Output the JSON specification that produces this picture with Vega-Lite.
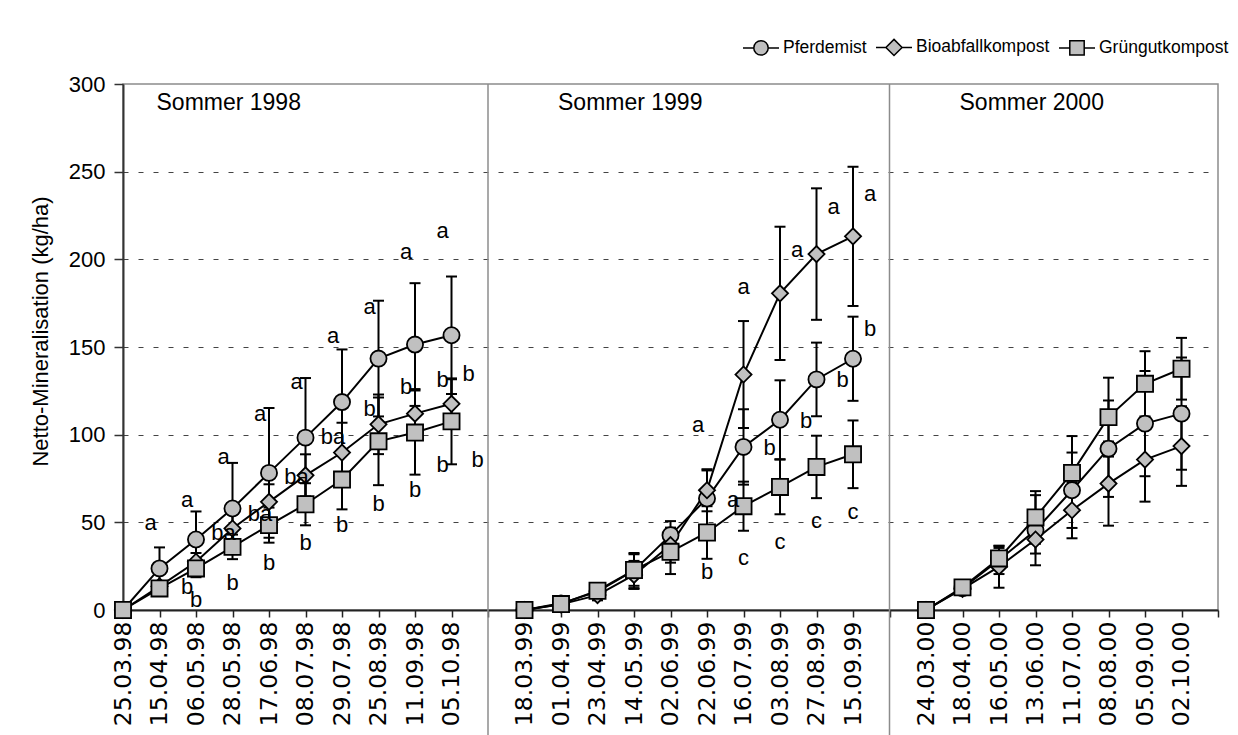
{
  "$schema": "https://vega.github.io/schema/vega-lite/v6.json",
  "width": 1095,
  "height": 526,
  "autosize": {"type": "none"},
  "padding": {"left": 123, "top": 84, "right": 20, "bottom": 125},
  "background": "white",
  "config": {
    "font": "Liberation Sans",
    "view": {"stroke": "#8c8c8c", "strokeWidth": 1.5}
  },
  "resolve": {"scale": {"shape": "independent"}, "legend": {"shape": "independent"}},
  "datasets": {
    "obs": [
      {"date": "25.03.98", "summer": "1998", "series": "Pferdemist", "value": 0, "err": 0},
      {"date": "15.04.98", "summer": "1998", "series": "Pferdemist", "value": 23.7, "err": 12},
      {"date": "06.05.98", "summer": "1998", "series": "Pferdemist", "value": 40.2, "err": 16},
      {"date": "28.05.98", "summer": "1998", "series": "Pferdemist", "value": 57.9, "err": 26},
      {"date": "17.06.98", "summer": "1998", "series": "Pferdemist", "value": 78.2, "err": 37},
      {"date": "08.07.98", "summer": "1998", "series": "Pferdemist", "value": 98.3, "err": 34},
      {"date": "29.07.98", "summer": "1998", "series": "Pferdemist", "value": 118.6, "err": 30},
      {"date": "25.08.98", "summer": "1998", "series": "Pferdemist", "value": 143.4, "err": 33},
      {"date": "11.09.98", "summer": "1998", "series": "Pferdemist", "value": 151.4, "err": 35},
      {"date": "05.10.98", "summer": "1998", "series": "Pferdemist", "value": 156.7, "err": 33.5},
      {"date": "18.03.99", "summer": "1999", "series": "Pferdemist", "value": 0, "err": 0},
      {"date": "01.04.99", "summer": "1999", "series": "Pferdemist", "value": 3.8, "err": 2},
      {"date": "23.04.99", "summer": "1999", "series": "Pferdemist", "value": 10.5, "err": 3},
      {"date": "14.05.99", "summer": "1999", "series": "Pferdemist", "value": 22.5, "err": 10},
      {"date": "02.06.99", "summer": "1999", "series": "Pferdemist", "value": 42.7, "err": 8},
      {"date": "22.06.99", "summer": "1999", "series": "Pferdemist", "value": 63.6, "err": 16},
      {"date": "16.07.99", "summer": "1999", "series": "Pferdemist", "value": 93, "err": 21.5},
      {"date": "03.08.99", "summer": "1999", "series": "Pferdemist", "value": 108.5, "err": 22.5},
      {"date": "27.08.99", "summer": "1999", "series": "Pferdemist", "value": 131.5, "err": 21},
      {"date": "15.09.99", "summer": "1999", "series": "Pferdemist", "value": 143.3, "err": 24},
      {"date": "24.03.00", "summer": "2000", "series": "Pferdemist", "value": 0, "err": 0},
      {"date": "18.04.00", "summer": "2000", "series": "Pferdemist", "value": 12.5, "err": 2},
      {"date": "16.05.00", "summer": "2000", "series": "Pferdemist", "value": 28.5, "err": 8},
      {"date": "13.06.00", "summer": "2000", "series": "Pferdemist", "value": 45.5, "err": 20},
      {"date": "11.07.00", "summer": "2000", "series": "Pferdemist", "value": 68.3, "err": 21.5},
      {"date": "08.08.00", "summer": "2000", "series": "Pferdemist", "value": 92, "err": 27.5},
      {"date": "05.09.00", "summer": "2000", "series": "Pferdemist", "value": 106.3, "err": 30},
      {"date": "02.10.00", "summer": "2000", "series": "Pferdemist", "value": 112, "err": 32},
      {"date": "25.03.98", "summer": "1998", "series": "Bioabfallkompost", "value": 0, "err": 0},
      {"date": "15.04.98", "summer": "1998", "series": "Bioabfallkompost", "value": 13.5, "err": 3},
      {"date": "06.05.98", "summer": "1998", "series": "Bioabfallkompost", "value": 27.5, "err": 5},
      {"date": "28.05.98", "summer": "1998", "series": "Bioabfallkompost", "value": 46.5, "err": 8},
      {"date": "17.06.98", "summer": "1998", "series": "Bioabfallkompost", "value": 61.7, "err": 10},
      {"date": "08.07.98", "summer": "1998", "series": "Bioabfallkompost", "value": 76.8, "err": 12},
      {"date": "29.07.98", "summer": "1998", "series": "Bioabfallkompost", "value": 89.8, "err": 17},
      {"date": "25.08.98", "summer": "1998", "series": "Bioabfallkompost", "value": 105.9, "err": 17},
      {"date": "11.09.98", "summer": "1998", "series": "Bioabfallkompost", "value": 112, "err": 14},
      {"date": "05.10.98", "summer": "1998", "series": "Bioabfallkompost", "value": 117.6, "err": 14},
      {"date": "18.03.99", "summer": "1999", "series": "Bioabfallkompost", "value": 0, "err": 0},
      {"date": "01.04.99", "summer": "1999", "series": "Bioabfallkompost", "value": 3.2, "err": 2},
      {"date": "23.04.99", "summer": "1999", "series": "Bioabfallkompost", "value": 8.5, "err": 3},
      {"date": "14.05.99", "summer": "1999", "series": "Bioabfallkompost", "value": 20, "err": 8},
      {"date": "02.06.99", "summer": "1999", "series": "Bioabfallkompost", "value": 37, "err": 10},
      {"date": "22.06.99", "summer": "1999", "series": "Bioabfallkompost", "value": 68.3, "err": 12},
      {"date": "16.07.99", "summer": "1999", "series": "Bioabfallkompost", "value": 134.3, "err": 30.5},
      {"date": "03.08.99", "summer": "1999", "series": "Bioabfallkompost", "value": 180.6, "err": 38},
      {"date": "27.08.99", "summer": "1999", "series": "Bioabfallkompost", "value": 203, "err": 37.5},
      {"date": "15.09.99", "summer": "1999", "series": "Bioabfallkompost", "value": 213.1, "err": 39.7},
      {"date": "24.03.00", "summer": "2000", "series": "Bioabfallkompost", "value": 0, "err": 0},
      {"date": "18.04.00", "summer": "2000", "series": "Bioabfallkompost", "value": 12, "err": 2},
      {"date": "16.05.00", "summer": "2000", "series": "Bioabfallkompost", "value": 24.7, "err": 12},
      {"date": "13.06.00", "summer": "2000", "series": "Bioabfallkompost", "value": 40.2, "err": 8},
      {"date": "11.07.00", "summer": "2000", "series": "Bioabfallkompost", "value": 56.9, "err": 16},
      {"date": "08.08.00", "summer": "2000", "series": "Bioabfallkompost", "value": 72.1, "err": 24},
      {"date": "05.09.00", "summer": "2000", "series": "Bioabfallkompost", "value": 85.8, "err": 24},
      {"date": "02.10.00", "summer": "2000", "series": "Bioabfallkompost", "value": 93.5, "err": 22.7},
      {"date": "25.03.98", "summer": "1998", "series": "Grüngutkompost", "value": 0, "err": 0},
      {"date": "15.04.98", "summer": "1998", "series": "Grüngutkompost", "value": 12.3, "err": 2},
      {"date": "06.05.98", "summer": "1998", "series": "Grüngutkompost", "value": 23.7, "err": 5},
      {"date": "28.05.98", "summer": "1998", "series": "Grüngutkompost", "value": 36, "err": 7},
      {"date": "17.06.98", "summer": "1998", "series": "Grüngutkompost", "value": 48.4, "err": 10},
      {"date": "08.07.98", "summer": "1998", "series": "Grüngutkompost", "value": 60.3, "err": 12},
      {"date": "29.07.98", "summer": "1998", "series": "Grüngutkompost", "value": 74.4, "err": 17},
      {"date": "25.08.98", "summer": "1998", "series": "Grüngutkompost", "value": 96.2, "err": 25},
      {"date": "11.09.98", "summer": "1998", "series": "Grüngutkompost", "value": 101.2, "err": 24},
      {"date": "05.10.98", "summer": "1998", "series": "Grüngutkompost", "value": 107.6, "err": 24.5},
      {"date": "18.03.99", "summer": "1999", "series": "Grüngutkompost", "value": 0, "err": 0},
      {"date": "01.04.99", "summer": "1999", "series": "Grüngutkompost", "value": 3.4, "err": 2},
      {"date": "23.04.99", "summer": "1999", "series": "Grüngutkompost", "value": 11, "err": 3},
      {"date": "14.05.99", "summer": "1999", "series": "Grüngutkompost", "value": 22.8, "err": 9},
      {"date": "02.06.99", "summer": "1999", "series": "Grüngutkompost", "value": 33.2, "err": 12.7},
      {"date": "22.06.99", "summer": "1999", "series": "Grüngutkompost", "value": 44.2, "err": 15},
      {"date": "16.07.99", "summer": "1999", "series": "Grüngutkompost", "value": 59.2, "err": 14},
      {"date": "03.08.99", "summer": "1999", "series": "Grüngutkompost", "value": 70.2, "err": 15.6},
      {"date": "27.08.99", "summer": "1999", "series": "Grüngutkompost", "value": 81.6, "err": 17.8},
      {"date": "15.09.99", "summer": "1999", "series": "Grüngutkompost", "value": 88.8, "err": 19.3},
      {"date": "24.03.00", "summer": "2000", "series": "Grüngutkompost", "value": 0, "err": 0},
      {"date": "18.04.00", "summer": "2000", "series": "Grüngutkompost", "value": 12.9, "err": 2},
      {"date": "16.05.00", "summer": "2000", "series": "Grüngutkompost", "value": 29.4, "err": 6},
      {"date": "13.06.00", "summer": "2000", "series": "Grüngutkompost", "value": 52.8, "err": 15},
      {"date": "11.07.00", "summer": "2000", "series": "Grüngutkompost", "value": 78.2, "err": 21},
      {"date": "08.08.00", "summer": "2000", "series": "Grüngutkompost", "value": 110, "err": 22.5},
      {"date": "05.09.00", "summer": "2000", "series": "Grüngutkompost", "value": 129, "err": 18.6},
      {"date": "02.10.00", "summer": "2000", "series": "Grüngutkompost", "value": 137.6, "err": 17.6}
    ],
    "letters": [
      {"date": "15.04.98", "letter": "a", "value": 49.7, "pos": "left"},
      {"date": "06.05.98", "letter": "a", "value": 62.6, "pos": "left"},
      {"date": "28.05.98", "letter": "a", "value": 87.3, "pos": "left"},
      {"date": "17.06.98", "letter": "a", "value": 112, "pos": "left"},
      {"date": "08.07.98", "letter": "a", "value": 130, "pos": "left"},
      {"date": "29.07.98", "letter": "a", "value": 156.5, "pos": "left"},
      {"date": "25.08.98", "letter": "a", "value": 173, "pos": "left"},
      {"date": "11.09.98", "letter": "a", "value": 204, "pos": "left"},
      {"date": "05.10.98", "letter": "a", "value": 216.3, "pos": "left"},
      {"date": "28.05.98", "letter": "ba", "value": 43.7, "pos": "left"},
      {"date": "17.06.98", "letter": "ba", "value": 55, "pos": "left"},
      {"date": "08.07.98", "letter": "ba", "value": 76, "pos": "left"},
      {"date": "29.07.98", "letter": "ba", "value": 98.7, "pos": "left"},
      {"date": "25.08.98", "letter": "b", "value": 114.8, "pos": "left"},
      {"date": "11.09.98", "letter": "b", "value": 127, "pos": "left"},
      {"date": "05.10.98", "letter": "b", "value": 131, "pos": "left"},
      {"date": "05.10.98", "letter": "b", "value": 134.7, "pos": "right"},
      {"date": "06.05.98", "letter": "b", "value": 13.3, "pos": "left"},
      {"date": "06.05.98", "letter": "b", "value": 5.7, "pos": "center"},
      {"date": "28.05.98", "letter": "b", "value": 15.2, "pos": "center"},
      {"date": "17.06.98", "letter": "b", "value": 26.6, "pos": "center"},
      {"date": "08.07.98", "letter": "b", "value": 38, "pos": "center"},
      {"date": "29.07.98", "letter": "b", "value": 48.4, "pos": "center"},
      {"date": "25.08.98", "letter": "b", "value": 60.7, "pos": "center"},
      {"date": "11.09.98", "letter": "b", "value": 68.3, "pos": "center"},
      {"date": "05.10.98", "letter": "b", "value": 82.5, "pos": "left"},
      {"date": "05.10.98", "letter": "b", "value": 85.4, "pos": "farright"},
      {"date": "15.09.99", "letter": "a", "value": 237.5, "pos": "right"},
      {"date": "27.08.99", "letter": "a", "value": 229.6, "pos": "right"},
      {"date": "03.08.99", "letter": "a", "value": 205.5, "pos": "right"},
      {"date": "16.07.99", "letter": "a", "value": 184, "pos": "center"},
      {"date": "22.06.99", "letter": "a", "value": 105.3, "pos": "left"},
      {"date": "15.09.99", "letter": "b", "value": 160.4, "pos": "right"},
      {"date": "27.08.99", "letter": "b", "value": 130.9, "pos": "farright"},
      {"date": "03.08.99", "letter": "b", "value": 107.8, "pos": "farright"},
      {"date": "16.07.99", "letter": "b", "value": 92.6, "pos": "farright"},
      {"date": "22.06.99", "letter": "a", "value": 63, "pos": "farright"},
      {"date": "22.06.99", "letter": "b", "value": 21.8, "pos": "center"},
      {"date": "16.07.99", "letter": "c", "value": 29.4, "pos": "center"},
      {"date": "03.08.99", "letter": "c", "value": 38.9, "pos": "center"},
      {"date": "27.08.99", "letter": "c", "value": 50.8, "pos": "center"},
      {"date": "15.09.99", "letter": "c", "value": 56, "pos": "center"}
    ],
    "separators": [{"date": " "}, {"date": "  "}],
    "panels": [
      {"date": "15.04.98", "label": "Sommer 1998"},
      {"date": "01.04.99", "label": "Sommer 1999"},
      {"date": "18.04.00", "label": "Sommer 2000"}
    ]
  },
  "encoding": {
    "x": {
      "field": "date",
      "type": "ordinal",
      "scale": {
        "type": "point",
        "padding": 0,
        "domain": ["25.03.98", "15.04.98", "06.05.98", "28.05.98", "17.06.98", "08.07.98", "29.07.98", "25.08.98", "11.09.98", "05.10.98", " ",
                   "18.03.99", "01.04.99", "23.04.99", "14.05.99", "02.06.99", "22.06.99", "16.07.99", "03.08.99", "27.08.99", "15.09.99", "  ",
                   "24.03.00", "18.04.00", "16.05.00", "13.06.00", "11.07.00", "08.08.00", "05.09.00", "02.10.00", "   "]
      },
      "axis": {
        "title": null,
        "labelAngle": 270,
        "labelFont": "DejaVu Sans",
        "labelFontSize": 23.5,
        "labelColor": "black",
        "labelPadding": 4,
        "domainColor": "#222",
        "domainWidth": 2,
        "tickColor": "#222",
        "tickWidth": 1.5,
        "tickSize": 7,
        "grid": false
      }
    }
  },
  "layer": [
    {
      "data": {"name": "separators"},
      "mark": {"type": "rule", "color": "#8c8c8c", "strokeWidth": 1.5, "clip": false},
      "encoding": {
        "y": {"datum": 300, "type": "quantitative", "scale": {"domain": [0, 300], "nice": false}},
        "y2": {"datum": -72}
      }
    },
    {
      "data": {"name": "obs"},
      "transform": [{"filter": "datum.err > 0"}],
      "mark": {
        "type": "errorbar",
        "rule": {"strokeWidth": 2, "color": "black", "opacity": 1},
        "ticks": {"size": 11, "thickness": 2, "color": "black", "opacity": 1}
      },
      "encoding": {
        "y": {
          "field": "value",
          "type": "quantitative",
          "scale": {"domain": [0, 300], "nice": false},
          "axis": {
            "values": [0, 50, 100, 150, 200, 250, 300],
            "title": "Netto-Mineralisation (kg/ha)",
            "titleFont": "Liberation Sans",
            "titleFontSize": 22,
            "titleFontWeight": "normal",
            "titleColor": "black",
            "titleAngle": 270,
            "titleAlign": "center",
            "titleBaseline": "middle",
            "titleX": -83,
            "titleY": 247,
            "labelFont": "Liberation Sans",
            "labelFontSize": 22,
            "labelColor": "black",
            "labelPadding": 9,
            "tickSize": 9,
            "tickColor": "#333",
            "tickWidth": 1.5,
            "domainColor": "#333",
            "domainWidth": 2,
            "grid": true,
            "gridColor": {"condition": {"test": "datum.value === 0 || datum.value === 300", "value": "transparent"}, "value": "#444444"},
            "gridDash": [5, 10],
            "gridWidth": 1
          }
        },
        "yError": {"field": "err"},
        "detail": {"field": "series"}
      }
    },
    {
      "data": {"name": "obs"},
      "mark": {"type": "line", "color": "black", "strokeWidth": 2},
      "encoding": {
        "y": {"field": "value", "type": "quantitative", "scale": {"domain": [0, 300], "nice": false}},
        "detail": [{"field": "series"}, {"field": "summer"}],
        "order": {"value": null}
      }
    },
    {
      "data": {"name": "obs"},
      "mark": {"type": "point", "filled": true, "fill": "#c0c0c0", "stroke": "black", "strokeWidth": 1.8, "opacity": 1, "size": 260},
      "encoding": {
        "y": {"field": "value", "type": "quantitative", "scale": {"domain": [0, 300], "nice": false}},
        "shape": {
          "field": "series",
          "type": "nominal",
          "scale": {"domain": ["Pferdemist", "Bioabfallkompost", "Grüngutkompost"], "range": ["circle", "diamond", "square"]},
          "legend": null
        }
      }
    },
    {
      "data": {"name": "obs"},
      "transform": [{"filter": "false"}],
      "mark": {"type": "point", "filled": true, "fill": "#c0c0c0", "stroke": "black", "strokeWidth": 1.8, "opacity": 1},
      "encoding": {
        "y": {"field": "value", "type": "quantitative", "scale": {"domain": [0, 300], "nice": false}},
        "shape": {
          "field": "series",
          "type": "nominal",
          "scale": {
            "domain": ["Pferdemist", "Bioabfallkompost", "Grüngutkompost"],
            "range": [
              "M-1,0L-0.4,0M0.4,0L1,0M0.4,0A0.4,0.4,0,1,1,-0.4,0A0.4,0.4,0,1,1,0.4,0Z",
              "M-1,0L-0.45,0M0.45,0L1,0M0,-0.45L0.45,0L0,0.45L-0.45,0Z",
              "M-1,0L-0.4,0M0.4,0L1,0M-0.4,-0.4L0.4,-0.4L0.4,0.4L-0.4,0.4Z"
            ]
          },
          "legend": {
            "title": null,
            "orient": "none",
            "direction": "horizontal",
            "legendX": 619,
            "legendY": -56,
            "symbolSize": 1296,
            "labelFont": "Liberation Sans",
            "labelFontSize": 17.5,
            "labelColor": "black",
            "labelLimit": 0,
            "labelOffset": 3,
            "columnPadding": 6,
            "encode": {
              "symbols": {
                "fill": {"value": "#c0c0c0"},
                "stroke": {"value": "black"},
                "strokeWidth": {"value": 1.8},
                "opacity": {"value": 1}
              }
            }
          }
        }
      }
    },
    {
      "data": {"name": "letters"},
      "transform": [{"filter": "datum.pos === 'left'"}],
      "mark": {"type": "text", "font": "Liberation Sans", "fontSize": 22, "color": "black", "align": "center", "baseline": "middle", "dx": -9},
      "encoding": {
        "y": {"field": "value", "type": "quantitative", "scale": {"domain": [0, 300], "nice": false}},
        "text": {"field": "letter"}
      }
    },
    {
      "data": {"name": "letters"},
      "transform": [{"filter": "datum.pos === 'center'"}],
      "mark": {"type": "text", "font": "Liberation Sans", "fontSize": 22, "color": "black", "align": "center", "baseline": "middle", "dx": 0},
      "encoding": {
        "y": {"field": "value", "type": "quantitative", "scale": {"domain": [0, 300], "nice": false}},
        "text": {"field": "letter"}
      }
    },
    {
      "data": {"name": "letters"},
      "transform": [{"filter": "datum.pos === 'right'"}],
      "mark": {"type": "text", "font": "Liberation Sans", "fontSize": 22, "color": "black", "align": "center", "baseline": "middle", "dx": 17},
      "encoding": {
        "y": {"field": "value", "type": "quantitative", "scale": {"domain": [0, 300], "nice": false}},
        "text": {"field": "letter"}
      }
    },
    {
      "data": {"name": "letters"},
      "transform": [{"filter": "datum.pos === 'farright'"}],
      "mark": {"type": "text", "font": "Liberation Sans", "fontSize": 22, "color": "black", "align": "center", "baseline": "middle", "dx": 26},
      "encoding": {
        "y": {"field": "value", "type": "quantitative", "scale": {"domain": [0, 300], "nice": false}},
        "text": {"field": "letter"}
      }
    },
    {
      "data": {"name": "panels"},
      "mark": {"type": "text", "font": "Liberation Sans", "fontSize": 23, "color": "black", "align": "left", "baseline": "middle", "dx": -3},
      "encoding": {
        "y": {"datum": 289, "type": "quantitative", "scale": {"domain": [0, 300], "nice": false}},
        "text": {"field": "label"}
      }
    }
  ]
}
